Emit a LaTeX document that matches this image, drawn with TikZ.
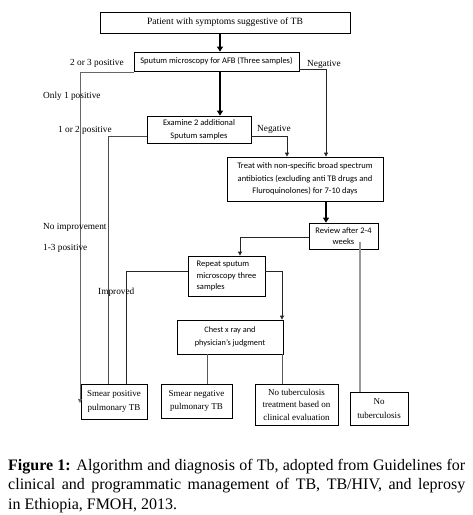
\documentclass[tikz,border=0pt]{standalone}
\usepackage{fontspec}
\setmainfont{Liberation Serif}
\newfontfamily\sansf{Carlito}
\usetikzlibrary{arrows.meta}
\newcommand\capfnt{\fontsize{16}{19}\selectfont}
\begin{document}
\begin{tikzpicture}[x=1pt,y=-1pt,
  box/.style={draw=black, line width=0.8pt, inner sep=0pt, align=center},
  serifbox/.style={box, font=\fontsize{9}{13.5}\selectfont},
  sansbox/.style={box, font=\sansf\fontsize{8.5}{12.5}\selectfont},
  lbl/.style={inner sep=0pt, anchor=west, font=\fontsize{9.3}{11}\selectfont},
  bigarrow/.style={line width=1.8pt, -{Triangle[width=6pt,length=5pt]}},
  thinline/.style={line width=0.8pt, draw=black!85},
  thinarrow/.style={thinline, -{Triangle[width=4pt,length=4pt]}},
]
\useasboundingbox (0,0) rectangle (473,515);

% boxes
\node[serifbox, minimum width=250pt, minimum height=21pt, font=\fontsize{9.6}{12}\selectfont] (top) at (225,22.5) {Patient with symptoms suggestive of TB};
\node[sansbox, minimum width=165pt, minimum height=19pt] (sputum) at (216.5,61.5) {Sputum microscopy for AFB (Three samples)};
\node[sansbox, minimum width=104pt, minimum height=27pt] (examine) at (199,129.5) {Examine 2 additional\\Sputum samples};
\node[sansbox, minimum width=156pt, minimum height=44pt] (treat) at (305,179) {Treat with non-specific broad spectrum\\antibiotics (excluding anti TB drugs and\\Fluroquinolones) for 7-10 days};
\node[sansbox, minimum width=69pt, minimum height=26pt, font=\sansf\fontsize{8.5}{10.5}\selectfont] (review) at (343.5,236) {Review after 2-4\\weeks};
\node[sansbox, minimum width=77pt, minimum height=40pt, align=left, font=\sansf\fontsize{8.5}{11.8}\selectfont] (repeat) at (226.5,276) {Repeat sputum\\microscopy three\\samples};
\node[sansbox, minimum width=106pt, minimum height=34pt, font=\sansf\fontsize{8.3}{13}\selectfont] (chest) at (230,337) {Chest x ray and\\physician’s judgment};
\node[serifbox, minimum width=66pt, minimum height=35pt] (smearpos) at (114,401.5) {Smear positive\\pulmonary TB};
\node[serifbox, minimum width=71pt, minimum height=34pt] (smearneg) at (196.5,401) {Smear negative\\pulmonary TB};
\node[serifbox, minimum width=83pt, minimum height=41pt, font=\fontsize{9}{12.5}\selectfont] (notbtreat) at (296.5,404.5) {No tuberculosis\\treatment based on\\clinical evaluation};
\node[serifbox, minimum width=58pt, minimum height=33pt] (notb) at (379,408.5) {No\\tuberculosis};

% lanes
\coordinate (x80) at (80,0);
\coordinate (x108) at (108,0);
\coordinate (x126) at (126,0);
\coordinate (x207) at (207,0);
\coordinate (x220) at (220,0);
\coordinate (x240) at (240,0);
\coordinate (x282) at (282,0);
\coordinate (x287) at (287,0);
\coordinate (x326) at (326,0);
\coordinate (x360) at (360,0);
\coordinate (y69) at (0,69);
\coordinate (y72) at (0,72);
\coordinate (y136) at (0,136);
\coordinate (y237) at (0,237);
\coordinate (y242) at (0,242);
\coordinate (y271) at (0,271);
\coordinate (y403) at (0,403);

% connectors
\draw[bigarrow] (top.south -| x220) -- (sputum.north -| x220);
\draw[bigarrow] (sputum.south -| x220) -- (examine.north -| x220);
\draw[bigarrow] (treat.south -| x326) -- (review.north -| x326);

\draw[thinarrow, draw=black!60] (sputum.west |- y72) -- (x80 |- y72) -- (x80 |- y403);
\draw[thinline, draw=black!70] (examine.west |- y136) -- (x108 |- y136) -- (x108 |- smearpos.north);
\draw[thinarrow] (examine.east |- y136) -- (x287 |- y136) -- (x287 |- treat.north);
\draw[thinarrow] (sputum.east |- y69) -- (x326 |- y69) -- (x326 |- treat.north);
\draw[thinarrow] (review.west |- y237) -- (x240 |- y237) -- (x240 |- repeat.north);
\draw[thinline] (repeat.west |- y271) -- (x126 |- y271) -- (x126 |- smearpos.north);
\draw[thinarrow] (repeat.east |- y271) -- (x282 |- y271) -- (x282 |- chest.north);
\draw[thinline, draw=black!65] (chest.south -| x207) -- (smearneg.north -| x207);
\draw[thinline, draw=black!65] (chest.south -| x282) -- (notbtreat.north -| x282);
\draw[line width=1.3pt, draw=black!40] (x360 |- y242) -- (notb.north -| x360);

% labels
\node[lbl] (l23) at (70,63) {2 or 3 positive};
\node[lbl] (l1) at (43,96) {Only 1 positive};
\node[lbl] (l12) at (58,130) {1 or 2 positive};
\node[lbl] (lnoimp) at (43,227) {No improvement};
\node[lbl] (l13) at (43,248) {1-3 positive};
\node[lbl] (limp) at (98,292) {Improved};
\node[lbl] (lneg1) at (307,64) {Negative};
\node[lbl] (lneg2) at (257,129) {Negative};

% caption
\node[anchor=base west, inner sep=0pt, font=\capfnt] (cap1) at (8,470) {\hbox to 457pt{\textbf{Figure 1:} Algorithm and diagnosis of Tb, adopted from Guidelines for}};
\node[anchor=base west, inner sep=0pt, font=\capfnt] (cap2) at (8,489.5) {\hbox to 457pt{clinical and programmatic management of TB, TB/HIV, and leprosy}};
\node[anchor=base west, inner sep=0pt, font=\capfnt] (cap3) at (8,509) {in Ethiopia, FMOH, 2013.};
\end{tikzpicture}
\end{document}
